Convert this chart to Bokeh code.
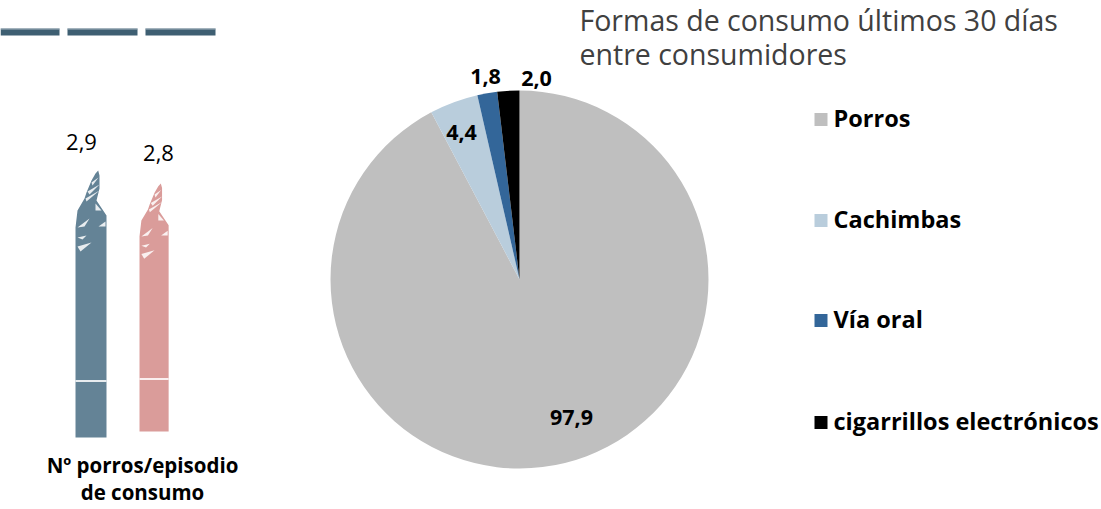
from math import pi
from bokeh.plotting import figure
from bokeh.embed import file_html
from bokeh.resources import INLINE
from bokeh.core.properties import value as V

# Data
categories = ["Porros", "Cachimbas", "Vía oral", "cigarrillos electrónicos"]
pct = [97.9, 4.4, 1.8, 2.0]
pct_labels = ["97,9", "4,4", "1,8", "2,0"]
colors = ["#BFBFBF", "#B9CDDC", "#336699", "#000000"]
joint_labels = ["2,9", "2,8"]
joint_colors = ["#648396", "#DA9C9A"]
title_lines = ["Formas de consumo últimos 30 días", "entre consumidores"]
caption_lines = ["Nº porros/episodio", "de consumo"]

W, H = 1101, 509
Y = lambda y: H - y
p = figure(width=W, height=H, x_range=(0, W), y_range=(0, H), output_backend="svg",
           toolbar_location=None, min_border=0, outline_line_color=None,
           background_fill_color="white", border_fill_color="white",
           margin=0, styles={"position": "absolute", "left": "0px", "top": "0px"})
p.axis.visible = False
p.grid.visible = False

FONT = "Open Sans"
def txt(x, y, s, size, bold=False, color="#000000", align="center"):
    p.text([x], [Y(y)], text=[s], text_font=V(FONT), text_font_size=size,
           text_font_style="bold" if bold else "normal", text_color=color,
           text_align=align, text_baseline="middle")

# Dashes on top
for x0, x1 in [(0, 59), (67, 137), (145, 215)]:
    p.quad(left=[x0], right=[x1], top=[Y(28)], bottom=[Y(35)], fill_color="#3E5F72", line_color=None)
    p.quad(left=[x0], right=[x1], top=[Y(28)], bottom=[Y(29)], fill_color="#A9B8C2", line_color=None)

# Pictogram joints: outline in the blue joint's pixels, pink derived by scale
outline = [(97.7,170),(99,175),(99,188),(96,200),(106,215),(106,437),(75,437),(75,227),(77,210),(84,198),(86,192),(91,180),(95,173)]
streaks = [
    [(95,203),(95,210),(101,210)],
    [(77,227),(89,218),(84,226)],
    [(98,226),(105,221),(105,226)],
    [(77,237),(86,235),(82,239)],
    [(77,246),(91,242),(80,251)],
    [(87,191),(99,184),(89,194)],
    [(91,182),(98,177),(92,185)],
    [(85,198),(99,190),(86,201)],
    [(75,379.5),(106,379.5),(106,381.5),(75,381.5)],
]
placements = [(75, 437, 1.0, 1.0), (139, 431, 0.94, 0.929)]
for (ox, oy, sx, sy), col in zip(placements, joint_colors):
    tx = lambda x: ox + (x - 75) * sx
    ty = lambda y: Y(oy - (437 - y) * sy)
    p.patch([tx(a) for a, b in outline], [ty(b) for a, b in outline], fill_color=col, line_color=None)
    for s in streaks:
        p.patch([tx(a) for a, b in s], [ty(b) for a, b in s], fill_color="white", fill_alpha=0.85, line_color=None)

txt(81, 141, joint_labels[0], "22px")
txt(158, 152, joint_labels[1], "22px")
txt(142, 464, caption_lines[0], "20.5px", bold=True)
txt(142, 491, caption_lines[1], "20.5px", bold=True)

# Pie
cx, cy, r = 519, Y(279), 189
total = sum(pct)
ang = pi / 2
for v, c in zip(pct, colors):
    end = ang - v / total * 2 * pi
    p.wedge(x=[cx], y=[cy], radius=r, start_angle=ang, end_angle=end, direction="clock",
            fill_color=c, line_color=None)
    ang = end

for (x, y), s in zip([(571, 417), (461, 132), (485, 76), (536, 78)], pct_labels):
    txt(x, y, s, "21.5px", bold=True)

# Title
txt(579, 19, title_lines[0], "28.5px", color="#404040", align="left")
txt(579, 53, title_lines[1], "28.5px", color="#404040", align="left")

# Legend
for yc, yt, name, c in zip([119, 220, 320, 422], [117, 218, 318, 420], categories, colors):
    p.quad(left=[814], right=[827], top=[Y(yc - 6.5)], bottom=[Y(yc + 6.5)], fill_color=c, line_color=None)
    txt(833, yt, name, "23.5px", bold=True, align="left")

open("out.html", "w").write(file_html(p, INLINE))
